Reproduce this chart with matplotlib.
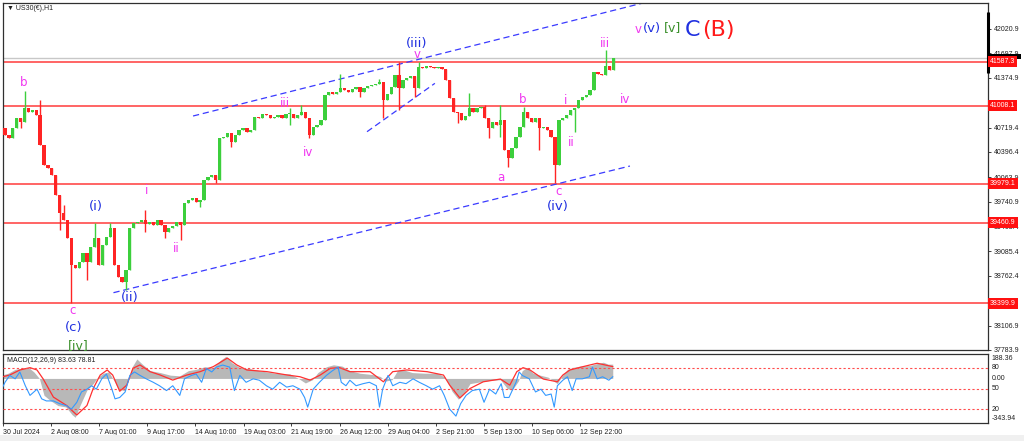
import matplotlib.pyplot as plt
import matplotlib.transforms as mtransforms
from matplotlib.patches import Rectangle

plt.rcParams['font.family'] = ['Liberation Sans', 'DejaVu Sans']

symbol = 'US30(€),H1'

# ---- price data (H1, one candle per 5 hours) ----
bar_hours = 5
first_open = 40713
closes = [40620, 40581, 40713, 40845, 40792, 40976, 40924, 40950, 40884, 40489,
          40225, 40185, 40093, 39829, 39592, 39499, 39262, 38906, 38866, 38943,
          39064, 38943, 39143, 39262, 38906, 39170, 39275, 39394, 38906, 38747,
          38681, 38840, 39394, 39460, 39473, 39499, 39446, 39473, 39433, 39499,
          39433, 39341, 39394, 39420, 39473, 39433, 39724, 39763, 39790, 39737,
          39763, 40027, 40066, 40093, 40027, 40581, 40594, 40647, 40528, 40620,
          40686, 40713, 40660, 40686, 40858, 40845, 40897, 40884, 40845, 40858,
          40884, 40845, 40897, 40897, 40845, 40884, 40924, 40845, 40620, 40726,
          40752, 40818, 41148, 41188, 41161, 41188, 41240, 41214, 41188, 41227,
          41253, 41188, 41240, 41267, 41280, 41293, 41319, 41082, 41161, 41253,
          41412, 41240, 41346, 41372, 41399, 41240, 41517, 41504, 41530, 41517,
          41504, 41517, 41491, 41346, 41108, 40924, 40911, 40818, 40871, 40976,
          40924, 40976, 40990, 40845, 40713, 40792, 40752, 40818, 40423, 40317,
          40449, 40594, 40726, 40924, 40845, 40792, 40845, 40713, 40726, 40686,
          40594, 40225, 40818, 40845, 40884, 40950, 40976, 41082, 41122, 41148,
          41214, 41451, 41425, 41412, 41530, 41478, 41636]
spike_highs = {5: 41201, 9: 41082, 15: 39697, 23: 39460, 27: 39460, 36: 39631,
               73: 40976, 76: 41016, 86: 41425, 96: 41359, 101: 41583, 106: 41583,
               119: 41174, 123: 41016, 127: 41016, 133: 40990, 154: 41742}
spike_lows = {4: 40713, 14: 39367, 17: 38404, 21: 38708, 31: 38576, 36: 39341,
              41: 39262, 45: 39235, 50: 39671, 54: 39987, 58: 40462, 73: 40752,
              78: 40581, 91: 41122, 97: 40845, 101: 40950, 105: 41122, 116: 40779,
              124: 40581, 127: 40594, 129: 40198, 137: 40423, 141: 39987, 146: 40660}

levels = [41587.3, 41008.1, 39979.1, 39460.9, 38399.9]
ask_price = 41640
price_ticks = [42020.9, 41697.9, 41374.9, 40719.4, 40396.4, 40063.9,
               39740.9, 39408.4, 39085.4, 38762.4, 38106.9, 37783.9]

first_label = '30 Jul 2024'
time_ticks = [59, 121, 182, 244, 306, 367, 429, 491, 552, 614, 676, 737]
time_labels = ['2 Aug 08:00', '7 Aug 01:00', '9 Aug 17:00', '14 Aug 10:00',
               '19 Aug 03:00', '21 Aug 19:00', '26 Aug 12:00', '29 Aug 04:00',
               '2 Sep 21:00', '5 Sep 13:00', '10 Sep 06:00', '12 Sep 22:00']

# trend lines (hour, price)
upper_channel = ([241, 820], [40871, 42368])
lower_channel = ([139, 801], [38540, 40211])
inner_line = ([464, 551], [40664, 41302])

MAG, BLU, GRN, RED = '#f035f0', '#2030e0', '#3a8f2a', '#ff1a1a'
waves = [('b', 24, 41319, MAG, 8.5), ('c', 86, 38299, MAG, 8.5),
         ('(c)', 88, 38075, BLU, 9.5), ('[iv]', 94, 37837, GRN, 9),
         ('(i)', 117, 39671, BLU, 9.5), ('i', 182, 39882, MAG, 8.5),
         ('ii', 219, 39117, MAG, 8.5), ('(ii)', 160, 38470, BLU, 9.5),
         ('iii', 359, 41042, MAG, 8.5), ('iv', 388, 40396, MAG, 8.5),
         ('(iii)', 527, 41834, BLU, 9.5), ('v', 528, 41676, MAG, 8.5),
         ('a', 635, 40066, MAG, 8.5), ('b', 663, 41095, MAG, 8.5),
         ('c', 709, 39869, MAG, 8.5), ('(iv)', 708, 39671, BLU, 9.5),
         ('i', 719, 41082, MAG, 8.5), ('ii', 726, 40515, MAG, 8.5),
         ('iii', 769, 41834, MAG, 8.5), ('iv', 795, 41095, MAG, 8.5),
         ('v', 811, 42018, MAG, 8.5), ('(v)', 829, 42032, BLU, 9.5),
         ('[v]', 856, 42032, GRN, 9), ('C', 881, 42005, BLU, 16),
         ('(B)', 914, 42005, RED, 16)]

# ---- indicator window ----
macd_hours = [-2, 4, 13, 22, 30, 37, 44, 50, 58, 68, 78, 86, 90, 96, 105, 113, 119, 126,
              133, 140, 145, 153, 158, 163, 169, 176, 186, 199, 212, 224, 235, 245, 256,
              267, 276, 283, 291, 301, 314, 330, 346, 365, 376, 385, 394, 401, 412, 421,
              432, 442, 455, 471, 481, 488, 496, 503, 509, 522, 538, 554, 564, 573, 581,
              588, 596, 606, 622, 635, 644, 650, 658, 663, 669, 677, 686, 696, 703, 708,
              714, 721, 728, 737, 750, 759, 767, 773, 779]
macd_main = [30, 40, 70, 80, 85, 50, 0, -130, -170, -210, -220, -280, -300, -210, -90,
             -40, 10, 40, 50, -20, -80, -95, -20, 90, 150, 110, 60, 45, 25, 20, 60, 70,
             90, 85, 140, 170, 120, 85, 75, 55, 40, 35, 0, -35, -10, 45, 90, 105, 95,
             60, 40, 30, 15, -20, -10, 60, 70, 45, 40, 40, 10, -100, -160, -120, -40,
             -30, -15, -10, -80, -90, -20, 60, 85, 40, 25, 10, -20, -40, 20, 70, 85, 95,
             100, 115, 125, 110, 110]
sig_hours = [-3, 6, 19, 32, 41, 49, 62, 79, 92, 105, 113, 122, 131, 138, 147, 156, 164,
             173, 186, 199, 215, 233, 250, 267, 285, 297, 310, 336, 362, 378, 391, 404,
             417, 429, 442, 468, 485, 497, 515, 541, 562, 570, 583, 596, 613, 635, 647,
             656, 664, 673, 690, 708, 715, 724, 741, 759, 779]
macd_signal = [13, 26, 65, 83, 65, -5, -144, -209, -282, -209, -78, 26, 65, 26, -99, -52,
               78, 104, 52, 26, -13, 26, 52, 91, 157, 104, 65, 52, 26, 13, -13, 26, 78, 83,
               52, 52, -26, 52, 65, 52, 26, -52, -151, -78, -26, -5, -52, 52, 83, 65, -5,
               -26, 26, 65, 91, 117, 91]
osc_hours = [-3, 0, 6, 13, 19, 26, 32, 41, 47, 53, 62, 70, 79, 85, 92, 98, 105, 111, 117,
             124, 130, 137, 141, 147, 154, 160, 166, 173, 181, 190, 198, 207, 215, 224,
             230, 239, 245, 252, 258, 265, 271, 279, 288, 294, 301, 309, 318, 326, 335,
             343, 352, 361, 369, 378, 384, 388, 395, 403, 412, 420, 427, 431, 437, 442,
             450, 459, 467, 476, 480, 484, 491, 497, 506, 514, 523, 531, 540, 548, 557,
             563, 570, 578, 584, 591, 599, 608, 614, 621, 629, 636, 640, 646, 655, 659,
             663, 672, 680, 687, 693, 700, 704, 708, 715, 721, 727, 732, 740, 749, 753,
             759, 766, 774, 779]
osc_vals = [52, 59, 69, 64, 74, 54, 40, 49, 35, 32, 32, 28, 25, 20, 30, 45, 49, 54, 49,
            64, 71, 49, 35, 37, 45, 69, 74, 69, 64, 59, 54, 47, 54, 40, 64, 69, 71, 59,
            79, 74, 81, 84, 81, 47, 69, 59, 64, 62, 54, 49, 59, 52, 54, 49, 37, 23, 49,
            59, 69, 76, 81, 59, 54, 62, 54, 57, 59, 54, 23, 49, 69, 54, 59, 57, 64, 59,
            54, 49, 54, 40, 20, 10, 28, 40, 47, 49, 30, 49, 42, 57, 37, 37, 59, 74, 69,
            64, 45, 49, 40, 42, 23, 54, 62, 67, 47, 64, 64, 67, 81, 64, 67, 62, 67]
osc_levels = [80, 50, 20]
macd_range = (-343.94, 188.36)

# ---- figure ----
fig = plt.figure(figsize=(10.24, 4.41), dpi=100)
fig.patch.set_facecolor('white')
W, H = 1024, 441
ax = fig.add_axes([3 / W, (H - 350) / H, 985 / W, 347 / H])
xmin, xmax = -2.6, 1260
ax.set_xlim(xmin, xmax)
ax.set_ylim(37783.9, 42362)

# candles
up_col, dn_col = '#3ccf3c', '#ff2424'
opens = [first_open] + closes[:-1]
for i, (o, c) in enumerate(zip(opens, closes)):
    xi = i * bar_hours
    col = up_col if c >= o else dn_col
    hi = spike_highs.get(i, max(o, c))
    lo = spike_lows.get(i, min(o, c))
    ax.vlines(xi, lo, hi, color=col, lw=1.0, zorder=3)
    ax.bar(xi, max(abs(c - o), 14), bottom=min(o, c) - 4, width=4.2, color=col, lw=0,
           zorder=3)

# horizontal levels
ax.axhline(ask_price, color='#c8c8c8', lw=1.0, zorder=1)
for lv in levels:
    ax.axhline(lv, color='#ff6464', lw=1.4, zorder=1)

# trend lines
for xs, ys in (upper_channel, lower_channel, inner_line):
    ax.plot(xs, ys, color='#3a3aff', lw=0.9, ls=(0, (5, 3)), zorder=2)

# wave labels
for txt, hx, py, col, fs in waves:
    ax.text(hx, py, txt, color=col, fontsize=fs, ha='center', va='center',
            family='DejaVu Sans', zorder=5, clip_on=False)

# price axis
ax.yaxis.tick_right()
ax.set_yticks(price_ticks)
ax.set_yticklabels([f'{p:.1f}' for p in price_ticks])
ax.tick_params(axis='y', direction='out', length=2.5, width=0.6, labelsize=5,
               pad=1.5, colors='#202020')
ax.set_xticks([])
for sp in ax.spines.values():
    sp.set_color('#303030')
    sp.set_linewidth(0.9)

trans = mtransforms.blended_transform_factory(ax.transAxes, ax.transData)
ax.plot([1, 1], [41442, 42247], transform=trans, color='black', lw=2.2,
        clip_on=False, zorder=9, solid_capstyle='butt')
# bid marker, mostly hidden behind the level label
ax.add_patch(Rectangle((1.0015, 41620), 0.032, 75, transform=trans, fc='black',
                       ec='none', clip_on=False, zorder=9))
for lv in levels:
    ax.text(1.002, lv, f'{lv:.1f}', transform=trans, fontsize=5, color='white',
            va='center', ha='left', clip_on=False, zorder=10,
            bbox=dict(boxstyle='square,pad=0.3', fc='#ff1010', ec='none'))

fig.text(7 / W, 1 - 9 / H, '\u25bc ' + symbol, fontsize=5, va='center', color='#202020')

# ---- MACD window ----
mx = fig.add_axes([3 / W, (H - 423) / H, 985 / W, 69 / H])
mx.set_xlim(xmin, xmax)
mx.set_ylim(*macd_range)
mx.fill_between(macd_hours, 0, macd_main, color='#b8b8b8', lw=0, zorder=1)
mx.plot(sig_hours, macd_signal, color='#ff3030', lw=0.9, zorder=3)
mx.set_yticks([])
for sp in mx.spines.values():
    sp.set_color('#303030')
    sp.set_linewidth(0.9)

ox = mx.twinx()
ox.set_ylim(0, 100)
ox.set_xlim(xmin, xmax)
for lv in osc_levels:
    ox.axhline(lv, color='#ff4d4d', lw=0.8, ls=(0, (2, 2)), zorder=1)
ox.plot(osc_hours, osc_vals, color='#3399ff', lw=0.8, zorder=2)
ox.set_yticks([])
for sp in ox.spines.values():
    sp.set_visible(False)

mx.text(0.004, 0.9, 'MACD(12,26,9) 83.63 78.81', transform=mx.transAxes,
        fontsize=5, va='center', color='#202020')
rtrans = mtransforms.blended_transform_factory(mx.transAxes, ox.transData)
mtrans = mtransforms.blended_transform_factory(mx.transAxes, mx.transData)
mx.text(1.004, 0.93, f'{macd_range[1]:.2f}', transform=mx.transAxes, fontsize=5,
        va='center', color='#202020', clip_on=False)
mx.text(1.004, 0.06, f'{macd_range[0]:.2f}', transform=mx.transAxes, fontsize=5,
        va='center', color='#202020', clip_on=False)
mx.text(1.004, 0, '0.00', transform=mtrans, fontsize=5, va='center', color='#202020',
        clip_on=False)
for lv in osc_levels:
    mx.text(1.004, lv, str(lv), transform=rtrans, fontsize=5, va='center',
            color='#202020', clip_on=False)

mx.set_xticks([xmin] + time_ticks)
mx.set_xticklabels([first_label] + time_labels)
for lbl in mx.get_xticklabels():
    lbl.set_ha('left')
mx.tick_params(axis='x', direction='out', length=2.5, width=0.6, labelsize=5, pad=1.5,
               colors='#202020')

fig.add_artist(Rectangle((0, 0), 1, 6 / H, transform=fig.transFigure,
                         fc='#f0f0f0', ec='none'))

fig.savefig('out.png', dpi=100)
